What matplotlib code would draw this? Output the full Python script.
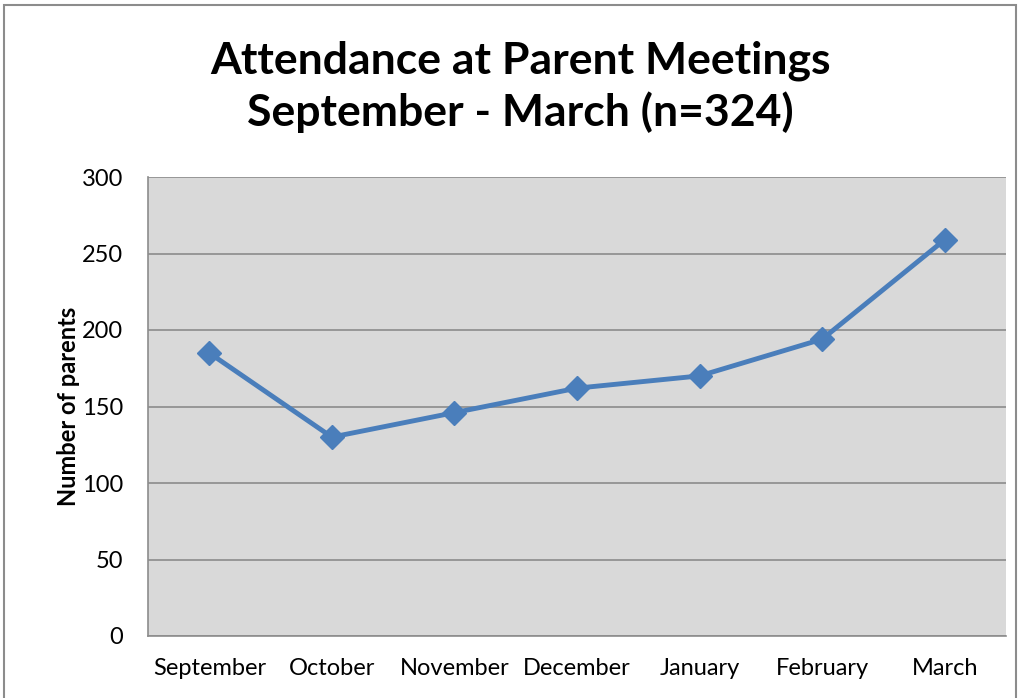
import matplotlib
matplotlib.use("Agg")
import matplotlib.pyplot as plt
from matplotlib.patches import Rectangle

months = ["September", "October", "November", "December", "January", "February", "March"]
attendance = [185, 130, 146, 162, 170, 194, 259]
yticks = [0, 50, 100, 150, 200, 250, 300]

plt.rcParams['font.family'] = ['Lato', 'DejaVu Sans']

fig = plt.figure(figsize=(10.21, 6.98), dpi=100)
fig.patch.set_facecolor('white')
fig.patches.append(Rectangle((4/1021, -0.01), 1012/1021, 1 - 5/698 + 0.01,
                             transform=fig.transFigure, fill=False,
                             edgecolor='#8c8c8c', linewidth=1.5))

ax = fig.add_axes([148/1021, 62/698, 858/1021, 459/698])
ax.set_facecolor('#d9d9d9')
x = list(range(len(months)))
ax.plot(x, attendance, color='#4a7ebb', linewidth=3.5, marker='D', markersize=12,
        zorder=3)
ax.set_xlim(-0.5, len(months) - 0.5)
ax.set_ylim(0, 300)
ax.set_yticks(yticks)
ax.set_yticklabels([str(v) for v in yticks], fontsize=17)
ax.set_xticks(x)
ax.set_xticklabels(months, fontsize=17)
ax.tick_params(axis='x', length=0, pad=16)
ax.tick_params(axis='y', length=0, pad=18)
ax.grid(axis='y', color='#8c8c8c', linewidth=1.2)
ax.set_axisbelow(True)
for side in ['top', 'right']:
    ax.spines[side].set_visible(False)
ax.spines['left'].set_color('#8c8c8c')
ax.spines['bottom'].set_color('#8c8c8c')
ax.spines['left'].set_linewidth(1.2)
ax.spines['bottom'].set_linewidth(1.2)

ax.set_ylabel("Number of parents", fontsize=17, fontweight='bold', labelpad=1)

fig.text(520/1021, 1 - 87/698, "Attendance at Parent Meetings\nSeptember - March (n=324)",
         ha='center', va='center', fontsize=32, fontweight='bold', linespacing=1.3)

fig.savefig("out.png", dpi=100)
